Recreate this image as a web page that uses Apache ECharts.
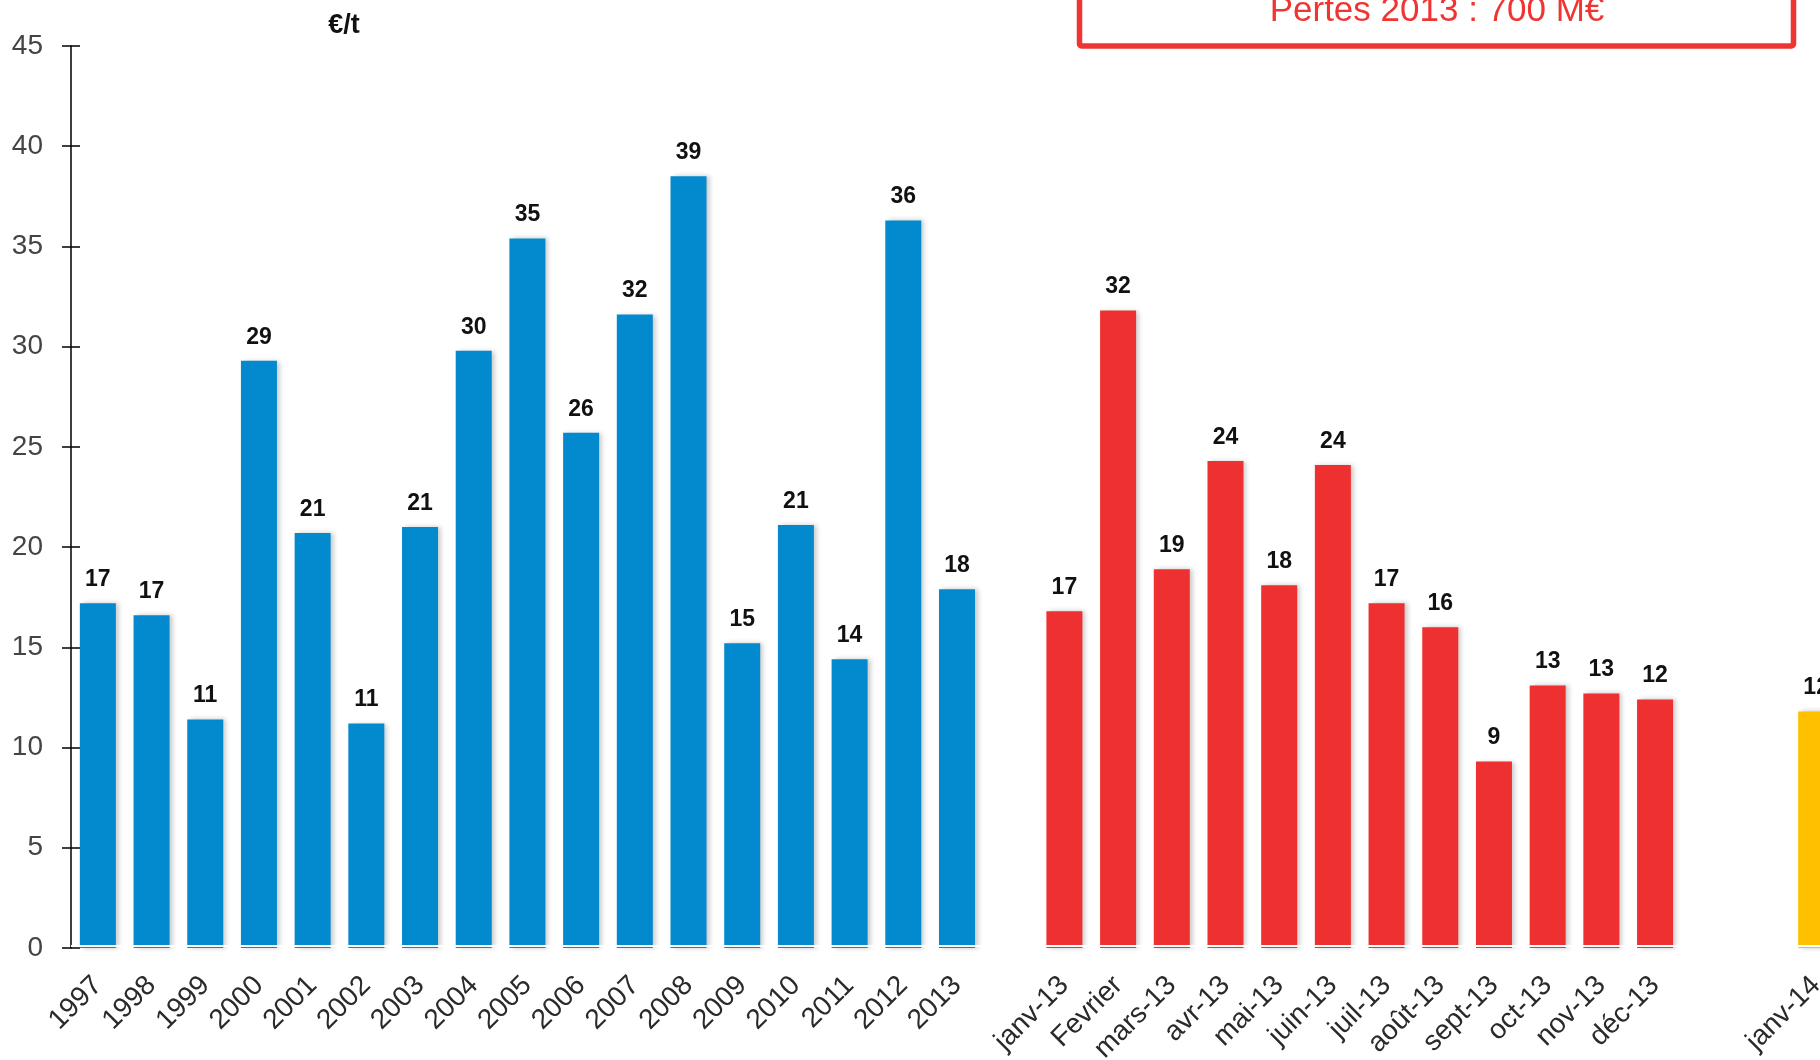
<!DOCTYPE html>
<html>
<head>
<meta charset="utf-8">
<script src="https://cdn.jsdelivr.net/npm/echarts@6/dist/echarts.min.js"></script>
<style>
html,body{margin:0;padding:0;background:#fff;overflow:hidden;width:1820px;height:1060px;}
#chart{width:1843px;height:1060px;}
</style>
</head>
<body>
<div id="chart"></div>
<script>
// Annual values (€/t)
const yearCats = ['1997','1998','1999','2000','2001','2002','2003','2004','2005','2006','2007','2008','2009','2010','2011','2012','2013'];
const yearVals = [17.2, 16.6, 11.4, 29.3, 20.7, 11.2, 21.0, 29.8, 35.4, 25.7, 31.6, 38.5, 15.2, 21.1, 14.4, 36.3, 17.9];
// Monthly values 2013
const monthCats = ['janv-13','Fevrier','mars-13','avr-13','mai-13','juin-13','juil-13','août-13','sept-13','oct-13','nov-13','déc-13'];
const monthVals = [16.8, 31.8, 18.9, 24.3, 18.1, 24.1, 17.2, 16.0, 9.3, 13.1, 12.7, 12.4];
// 2014
const nextCats = ['janv-14'];
const nextVals = [11.8];
// Axis
const yTicks = {min: 0, max: 45, interval: 5};
const unitLabel = '€/t';
const boxText = 'Pertes 2013 : 700 M€';

const gap1 = [''];
const gap2 = [' ', '  '];
const categories = [...yearCats, ...gap1, ...monthCats, ...gap2, ...nextCats];
const nBefore2 = yearCats.length + gap1.length;
const nBefore3 = nBefore2 + monthCats.length + gap2.length;

function pad(arr, before, total) {
  const out = [];
  for (let i = 0; i < total; i++) {
    const j = i - before;
    out.push(j >= 0 && j < arr.length ? arr[j] : '-');
  }
  return out;
}
const N = categories.length;
const blueData = pad(yearVals, 0, N);
const redData = pad(monthVals, nBefore2, N);
const yellowData = pad(nextVals, nBefore3, N);

const labelCfg = {
  show: true,
  position: 'top',
  distance: 12,
  color: '#111',
  fontFamily: 'Liberation Sans, Arial, sans-serif',
  fontWeight: 'bold',
  fontSize: 23,
  formatter: p => Math.round(p.value)
};
const shadow = {shadowBlur: 5, shadowOffsetX: 3, shadowOffsetY: 0, shadowColor: 'rgba(0,0,0,0.22)'};

function barSeries(name, data, color) {
  return {
    name, type: 'bar', data, barWidth: 36, barGap: '-100%',
    itemStyle: Object.assign({color}, shadow),
    label: labelCfg,
    markLine: {
      silent: true, symbol: 'none', label: {show: false},
      lineStyle: {color: '#ffffff', width: 1.5, type: 'solid'},
      data: [{yAxis: 0.12}]
    }
  };
}

const chart = echarts.init(document.getElementById('chart'), null, {renderer: 'canvas'});
chart.setOption({
  animation: false,
  backgroundColor: '#ffffff',
  grid: {left: 71, right: 0, top: 46, bottom: 112, containLabel: false, outerBoundsMode: 'none'},
  xAxis: {
    type: 'category',
    data: categories,
    axisLine: {show: false},
    axisTick: {show: false},
    axisLabel: {
      interval: 0, rotate: 45, margin: 33,
      fontFamily: 'Liberation Sans, Arial, sans-serif',
      fontSize: 28, color: '#2a2a2a'
    }
  },
  yAxis: [{
    type: 'value', min: yTicks.min, max: yTicks.max, interval: yTicks.interval,
    splitLine: {show: false},
    axisLine: {show: true, lineStyle: {color: '#000', width: 1.5}},
    axisTick: {show: true, inside: false, length: 9, lineStyle: {color: '#000', width: 1.5}},
    axisLabel: {margin: 28, fontFamily: 'Liberation Sans, Arial, sans-serif', fontSize: 28, color: '#444'}
  }, {
    type: 'value', position: 'left', min: yTicks.min, max: yTicks.max, interval: yTicks.interval,
    splitLine: {show: false},
    axisLine: {show: false},
    axisTick: {show: true, inside: true, length: 9, lineStyle: {color: '#000', width: 1.5}},
    axisLabel: {show: false}
  }],
  series: [
    barSeries('annuel', blueData, '#0389CE'),
    barSeries('2013', redData, '#EE3130'),
    barSeries('2014', yellowData, '#FFC000')
  ],
  graphic: [
    {
      type: 'text', x: 344, y: 26,
      style: {text: unitLabel, align: 'center', verticalAlign: 'middle',
        fontSize: 27, fontWeight: 'bold', fontFamily: 'Liberation Sans, Arial, sans-serif', fill: '#111'}
    },
    {
      type: 'rect', shape: {x: 1079.5, y: -20, width: 714, height: 66, r: 2},
      style: {fill: 'none', stroke: '#EE3533', lineWidth: 5.5}
    },
    {
      type: 'text', x: 1437, y: 29,
      style: {text: boxText, align: 'center', verticalAlign: 'bottom',
        fontSize: 35, fontFamily: '"Liberation Sans Narrow", "Liberation Sans", Arial, sans-serif', fill: '#EE3533'}
    }
  ]
});
</script>
</body>
</html>
